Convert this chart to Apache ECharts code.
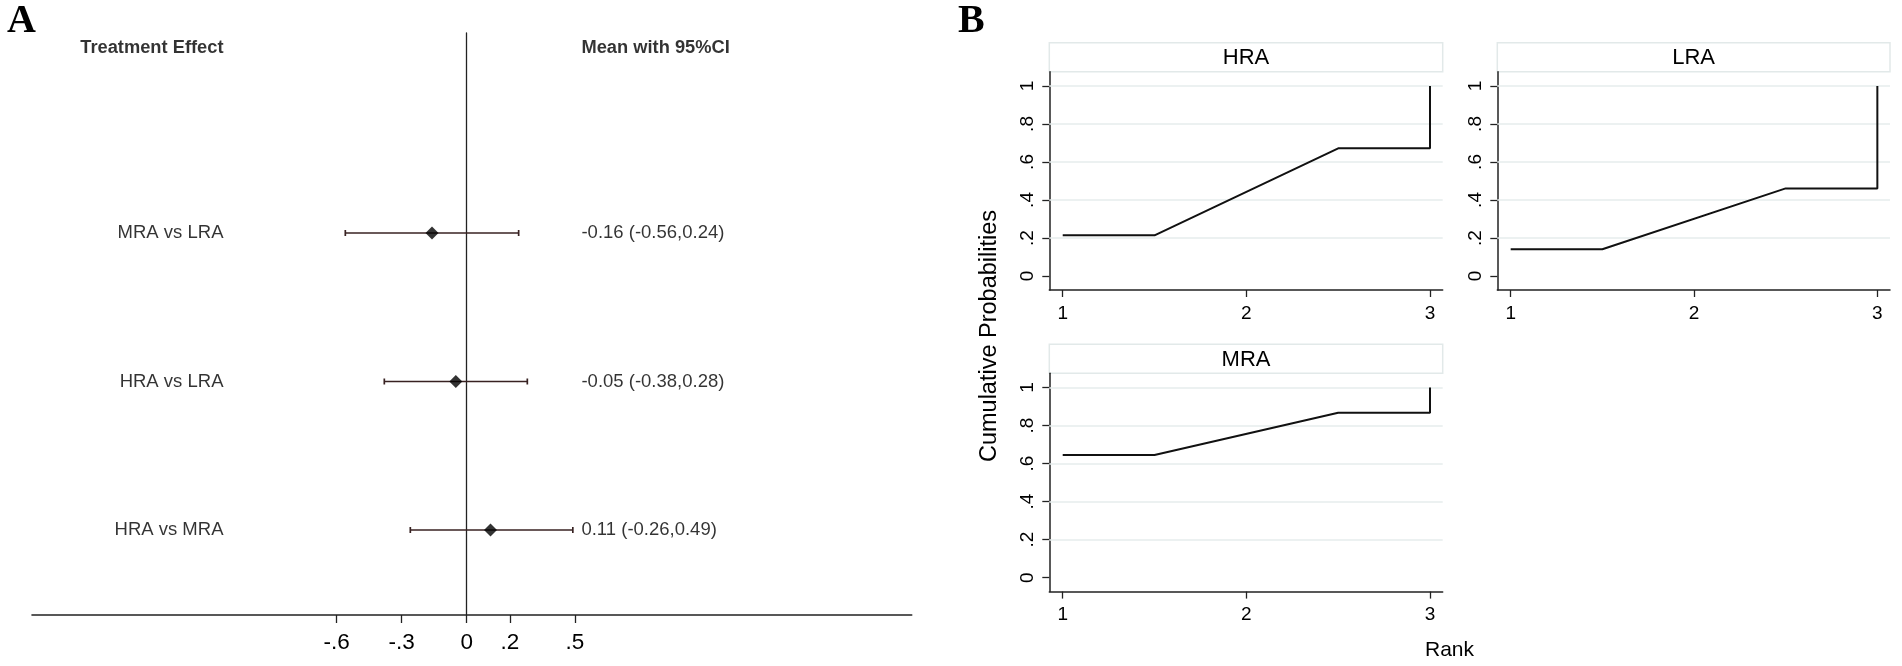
<!DOCTYPE html>
<html><head><meta charset="utf-8">
<script src="https://cdn.jsdelivr.net/npm/echarts@6/dist/echarts.min.js"></script>
<style>html,body{margin:0;padding:0;background:#fff}#c{width:1902px;height:666px}</style>
</head><body><div id="c"></div>
<script>
// ---------------- Data ----------------
// Panel A: forest plot
const comparisons = ['MRA vs LRA', 'HRA vs LRA', 'HRA vs MRA'];
const meanDiff = [-0.16, -0.05, 0.11];
const ciLower = [-0.56, -0.38, -0.26];
const ciUpper = [0.24, 0.28, 0.49];
const forestTickValues = [-0.6, -0.3, 0, 0.2, 0.5];
const forestTickLabels = ['-.6', '-.3', '0', '.2', '.5'];

// Panel B: cumulative ranking probabilities
const treatments = ['HRA', 'LRA', 'MRA'];
const rankVertexX = [1, 1.5, 2.5, 3, 3];
const cumHRA = [0.214, 0.214, 0.672, 0.672, 1];
const cumLRA = [0.141, 0.141, 0.461, 0.461, 1];
const cumMRA = [0.645, 0.645, 0.867, 0.867, 1];
const rankTicks = [1, 2, 3];
const probTickValues = [0, 0.2, 0.4, 0.6, 0.8, 1];
const probTickLabels = ['0', '.2', '.4', '.6', '.8', '1'];
const probGridValues = [0.2, 0.4, 0.6, 0.8, 1];

// ---------------- Layout / style ----------------
const FONT = "'Liberation Sans', Arial, sans-serif";
const SERIF = "'Liberation Serif', 'Times New Roman', serif";
const TXT = '#000';
const AX = '#222';
const GA = {left: 32, top: 33, width: 879.7, height: 582};
const PB = {
  HRA: {left: 1049.3, top: 71.7, width: 393.4, height: 218.3},
  LRA: {left: 1497.3, top: 71.7, width: 392.7, height: 218.3},
  MRA: {left: 1049.3, top: 373.3, width: 393.4, height: 218.3}
};
const HEADER_H = 29;
const ROW_LABEL_X = -1.12, VALUE_LABEL_X = 0.5275, HEADER_Y = 4.248;

function lookup(vals, labels, v) {
  for (let i = 0; i < vals.length; i++) if (Math.abs(vals[i] - v) < 1e-9) return labels[i];
  return '';
}
const rowY = i => comparisons.length - i;
const f2 = v => v.toFixed(2);

const grids = [
  Object.assign({}, GA),
  Object.assign({}, PB.HRA),
  Object.assign({}, PB.LRA),
  Object.assign({}, PB.MRA)
].map(g => Object.assign(g, {containLabel: false, outerBoundsMode: 'none'}));

const xAxes = [{
  gridIndex: 0, type: 'value', min: -2.006, max: 2.054,
  axisLine: {show: true, onZero: false, lineStyle: {color: AX, width: 1.6}},
  axisTick: {show: true, customValues: forestTickValues, length: 8, lineStyle: {color: AX, width: 1.3}},
  axisLabel: {show: true, customValues: forestTickValues, fontSize: 22.5, color: TXT, fontFamily: FONT, margin: 16,
    formatter: v => lookup(forestTickValues, forestTickLabels, v)},
  splitLine: {show: false}
}];
const yAxes = [{
  gridIndex: 0, type: 'value', min: 0.4276, max: 4.3468,
  axisLine: {show: true, onZero: true, lineStyle: {color: AX, width: 1.3}},
  axisTick: {show: false}, axisLabel: {show: false}, splitLine: {show: false}
}];
treatments.forEach((t, k) => {
  xAxes.push({
    gridIndex: k + 1, type: 'value', min: 0.927, max: 3.069,
    axisLine: {show: true, onZero: false, lineStyle: {color: AX, width: 1.5}},
    axisTick: {show: true, customValues: rankTicks, length: 7, lineStyle: {color: AX, width: 1.3}},
    axisLabel: {show: true, customValues: rankTicks, fontSize: 19, color: TXT, fontFamily: FONT, margin: 14},
    splitLine: {show: false}
  });
  yAxes.push({
    gridIndex: k + 1, type: 'value', min: -0.0737, max: 1.075,
    axisLine: {show: true, onZero: false, lineStyle: {color: AX, width: 1.5}},
    axisTick: {show: true, customValues: probTickValues, length: 7, lineStyle: {color: AX, width: 1.3}},
    axisLabel: {show: true, customValues: probTickValues, rotate: 90, fontSize: 19, color: TXT, fontFamily: FONT, margin: 12,
      formatter: v => lookup(probTickValues, probTickLabels, v)},
    splitLine: {show: false}
  });
});

const series = [];
// CI bars
series.push({
  type: 'custom', xAxisIndex: 0, yAxisIndex: 0, z: 3,
  data: comparisons.map((c, i) => [ciLower[i], ciUpper[i], rowY(i)]),
  encode: {x: [0, 1], y: 2},
  renderItem(params, api) {
    const lo = api.coord([api.value(0), api.value(2)]);
    const hi = api.coord([api.value(1), api.value(2)]);
    const cap = 3;
    const st = {stroke: '#382222', lineWidth: 1.7};
    return {type: 'group', children: [
      {type: 'line', shape: {x1: lo[0], y1: lo[1], x2: hi[0], y2: hi[1]}, style: st},
      {type: 'line', shape: {x1: lo[0], y1: lo[1] - cap, x2: lo[0], y2: lo[1] + cap}, style: st},
      {type: 'line', shape: {x1: hi[0], y1: hi[1] - cap, x2: hi[0], y2: hi[1] + cap}, style: st}
    ]};
  }
});
// Mean diamonds
series.push({
  type: 'scatter', xAxisIndex: 0, yAxisIndex: 0, z: 5,
  symbol: 'diamond', symbolSize: 13, itemStyle: {color: '#000'},
  data: comparisons.map((c, i) => [meanDiff[i], rowY(i)])
});
// Row labels
series.push({
  type: 'scatter', xAxisIndex: 0, yAxisIndex: 0, symbolSize: 1, itemStyle: {color: 'transparent'},
  data: comparisons.map((c, i) => [ROW_LABEL_X, rowY(i), c]),
  label: {show: true, position: 'left', distance: 0, fontSize: 18.5, color: TXT, fontFamily: FONT,
    formatter: p => p.data[2]}
});
// Value labels
series.push({
  type: 'scatter', xAxisIndex: 0, yAxisIndex: 0, symbolSize: 1, itemStyle: {color: 'transparent'},
  data: comparisons.map((c, i) => [VALUE_LABEL_X, rowY(i),
    f2(meanDiff[i]) + ' (' + f2(ciLower[i]) + ',' + f2(ciUpper[i]) + ')']),
  label: {show: true, position: 'right', distance: 0, fontSize: 18.5, color: TXT, fontFamily: FONT,
    formatter: p => p.data[2]}
});
// Column headers
series.push({
  type: 'scatter', xAxisIndex: 0, yAxisIndex: 0, symbolSize: 1, itemStyle: {color: 'transparent'},
  data: [[ROW_LABEL_X, HEADER_Y, 'Treatment Effect']],
  label: {show: true, position: 'left', distance: 0, fontSize: 18.3, fontWeight: 'bold', color: TXT, fontFamily: FONT,
    formatter: p => p.data[2]}
});
series.push({
  type: 'scatter', xAxisIndex: 0, yAxisIndex: 0, symbolSize: 1, itemStyle: {color: 'transparent'},
  data: [[VALUE_LABEL_X, HEADER_Y, 'Mean with 95%CI']],
  label: {show: true, position: 'right', distance: 0, fontSize: 18.3, fontWeight: 'bold', color: TXT, fontFamily: FONT,
    formatter: p => p.data[2]}
});
// Cumulative ranking lines
const cumData = {HRA: cumHRA, LRA: cumLRA, MRA: cumMRA};
treatments.forEach((t, k) => {
  series.push({
    type: 'line', name: t, xAxisIndex: k + 1, yAxisIndex: k + 1, z: 3,
    symbol: 'none', lineStyle: {color: '#111', width: 2},
    data: rankVertexX.map((x, i) => [x, cumData[t][i]]),
    markLine: {
      silent: true, symbol: ['none', 'none'], animation: false, z: 1,
      label: {show: false},
      lineStyle: {color: '#e6eded', width: 1.5, type: 'solid'},
      data: probGridValues.map(v => ({yAxis: v}))
    }
  });
});

// Graphic: panel letters, facet headers, axis titles
const graphic = [
  {type: 'text', x: 7, y: 22, style: {text: 'A', font: 'bold 40px ' + SERIF, fill: '#000', align: 'left', verticalAlign: 'middle'}},
  {type: 'text', x: 958, y: 22, style: {text: 'B', font: 'bold 40px ' + SERIF, fill: '#000', align: 'left', verticalAlign: 'middle'}},
  {type: 'text', x: 990, y: 336, rotation: Math.PI / 2,
    style: {text: 'Cumulative Probabilities', font: '23.5px ' + FONT, fill: TXT, align: 'center', verticalAlign: 'middle'}},
  {type: 'text', x: 1425, y: 650,
    style: {text: 'Rank', font: '21px ' + FONT, fill: TXT, align: 'left', verticalAlign: 'middle'}}
];
treatments.forEach(t => {
  const g = PB[t];
  graphic.push({type: 'rect', shape: {x: g.left, y: g.top - HEADER_H, width: g.width, height: HEADER_H},
    style: {fill: '#fff', stroke: '#e2e9e9', lineWidth: 1.5}});
  graphic.push({type: 'text', x: g.left + g.width / 2, y: g.top - HEADER_H / 2 + 1,
    style: {text: t, font: '22px ' + FONT, fill: TXT, align: 'center', verticalAlign: 'middle'}});
});

const chart = echarts.init(document.getElementById('c'), null, {renderer: 'canvas'});
chart.setOption({
  animation: false,
  backgroundColor: '#fff',
  grid: grids,
  xAxis: xAxes,
  yAxis: yAxes,
  series: series,
  graphic: graphic
});
</script>
</body></html>
